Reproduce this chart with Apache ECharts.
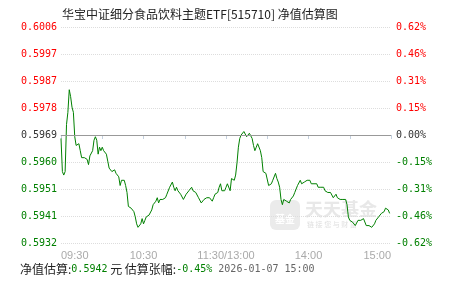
<!DOCTYPE html>
<html>
<head>
<meta charset="utf-8">
<script src="https://cdn.jsdelivr.net/npm/echarts@6/dist/echarts.min.js"></script>
<style>
  html, body { margin: 0; padding: 0; background: #fff; }
  #chart { width: 451px; height: 281px; }
</style>
</head>
<body>
<div id="chart"></div>
<script>
// 估算涨幅 (%) , one per minute from 09:30 (lunch break collapsed)
const pctData = [
  -0.02, -0.21, -0.23, -0.21, 0.06, 0.13, 0.26, 0.22, 0.16, 0.13,
  -0.01, -0.06, -0.07, -0.05, -0.09, -0.13, -0.12, -0.13, -0.14, -0.14,
  -0.17, -0.12, -0.11, -0.09, -0.03, -0.01, -0.03, -0.11, -0.07, -0.09,
  -0.07, -0.09, -0.10, -0.11, -0.15, -0.19, -0.20, -0.21, -0.20, -0.20,
  -0.22, -0.23, -0.24, -0.29, -0.26, -0.25, -0.26, -0.29, -0.33, -0.41,
  -0.42, -0.42, -0.43, -0.44, -0.47, -0.51, -0.53, -0.53, -0.51, -0.48,
  -0.51, -0.49, -0.47, -0.47, -0.46, -0.45, -0.43, -0.40, -0.39, -0.38,
  -0.36, -0.39, -0.37, -0.36, -0.37, -0.36, -0.36, -0.34, -0.33, -0.30,
  -0.29, -0.27, -0.30, -0.32, -0.30, -0.32, -0.32, -0.34, -0.34, -0.37,
  -0.36, -0.34, -0.33, -0.32, -0.32, -0.30, -0.32, -0.32, -0.33, -0.34,
  -0.36, -0.35, -0.39, -0.38, -0.37, -0.37, -0.36, -0.37, -0.36, -0.37,
  -0.38, -0.36, -0.34, -0.33, -0.33, -0.30, -0.28, -0.32, -0.33, -0.32,
  -0.30, -0.28, -0.27, -0.32, -0.25, -0.26, -0.26, -0.23, -0.16, -0.07,
  -0.02, 0.00, 0.01, 0.02, 0.01, -0.01, -0.01, 0.01, 0.02, -0.02,
  -0.06, -0.09, -0.07, -0.05, -0.06, -0.09, -0.13, -0.21, -0.22, -0.22,
  -0.23, -0.29, -0.28, -0.28, -0.26, -0.25, -0.22, -0.25, -0.27, -0.30,
  -0.37, -0.40, -0.37, -0.36, -0.38, -0.38, -0.39, -0.37, -0.36, -0.35,
  -0.33, -0.32, -0.29, -0.28, -0.26, -0.28, -0.27, -0.27, -0.26, -0.26,
  -0.27, -0.26, -0.28, -0.27, -0.28, -0.29, -0.28, -0.30, -0.29, -0.30,
  -0.30, -0.30, -0.32, -0.33, -0.33, -0.33, -0.33, -0.34, -0.36, -0.36,
  -0.34, -0.36, -0.37, -0.37, -0.36, -0.37, -0.36, -0.37, -0.40, -0.47,
  -0.49, -0.49, -0.50, -0.51, -0.52, -0.51, -0.49, -0.48, -0.49, -0.50,
  -0.48, -0.49, -0.52, -0.51, -0.52, -0.52, -0.53, -0.54, -0.51, -0.49,
  -0.48, -0.47, -0.46, -0.45, -0.44, -0.44, -0.42, -0.42, -0.43, -0.45
];

const timeTicks = [0, 60, 120, 180, 240];
const timeLabels = ['09:30', '10:30', '11:30/13:00', '14:00', '15:00'];
const navLabels = ['0.5932', '0.5941', '0.5951', '0.5960', '0.5969', '0.5978', '0.5987', '0.5997', '0.6006'];
const pctLabels = ['-0.62%', '-0.46%', '-0.31%', '-0.15%', '0.00%', '0.15%', '0.31%', '0.46%', '0.62%'];

const navNow = '0.5942';
const pctNow = '-0.45%';
const updateTime = '2026-01-07 15:00';

const mono = 'DejaVu Sans Mono';
const cjk = 'Noto Sans CJK SC';

function tickIndex(v) {
  return Math.round((v + 0.62) / 0.155);
}
// red above the previous NAV, green below, dark at the base line
function colored(v, labels) {
  const i = tickIndex(v);
  const tag = i > 4 ? 'up' : (i < 4 ? 'dn' : 'eq');
  return '{' + tag + '|' + labels[i] + '}';
}
const labelRich = {
  up: { color: '#ff0000', fontFamily: mono, fontSize: 10 },
  dn: { color: '#008000', fontFamily: mono, fontSize: 10 },
  eq: { color: '#333333', fontFamily: mono, fontSize: 10 }
};

const chart = echarts.init(document.getElementById('chart'));
chart.setOption({
  animation: false,
  title: {
    text: '华宝中证细分食品饮料主题ETF[515710] 净值估算图',
    left: 57,
    top: 3,
    textStyle: { fontSize: 12, fontWeight: 'normal', color: '#222', fontFamily: cjk }
  },
  grid: { left: 61, right: 60, top: 27, bottom: 38 },
  xAxis: {
    type: 'value',
    min: 0,
    max: 240,
    interval: 30,
    splitLine: { show: false },
    axisLine: { lineStyle: { color: '#c4d0de' } },
    axisTick: { show: true, length: 4, lineStyle: { color: '#c4d0de' } },
    axisLabel: {
      color: '#aaaaaa',
      fontSize: 11,
      fontFamily: 'Liberation Sans',
      margin: 7,
      alignMinLabel: 'left',
      alignMaxLabel: 'right',
      formatter: function (v) {
        const i = timeTicks.indexOf(Math.round(v));
        return i >= 0 ? timeLabels[i] : '';
      }
    }
  },
  yAxis: [
    {
      type: 'value',
      min: -0.62,
      max: 0.62,
      interval: 0.155,
      axisLine: { show: false },
      axisTick: { show: false },
      splitLine: { show: true, lineStyle: { color: '#dddddd', type: 'dotted' } },
      axisLabel: {
        margin: 4,
        rich: labelRich,
        formatter: function (v) { return colored(v, navLabels); }
      }
    },
    {
      type: 'value',
      min: -0.62,
      max: 0.62,
      interval: 0.155,
      position: 'right',
      axisLine: { show: false },
      axisTick: { show: false },
      splitLine: { show: false },
      axisLabel: {
        margin: 5,
        rich: labelRich,
        formatter: function (v) { return colored(v, pctLabels); }
      }
    }
  ],
  graphic: [
    {
      type: 'group',
      left: 270,
      top: 200,
      z: 0,
      children: [
        { type: 'rect', shape: { x: 0, y: 0, width: 30, height: 30, r: 6 }, style: { fill: '#ebebeb' } },
        { type: 'text', x: 15, y: 19, style: { text: '基金', fill: '#ffffff', font: 'bold 10px ' + cjk, align: 'center', verticalAlign: 'middle' } },
        { type: 'text', x: 35, y: 0, style: { text: '天天基金', fill: '#e8e8e8', font: 'bold 18px ' + cjk } },
        { type: 'text', x: 37, y: 21, style: { text: '链 接 您 与 财 富', fill: '#e0e0e0', font: '7px ' + cjk } }
      ]
    },
    {
      type: 'text',
      left: 20,
      top: 263,
      style: {
        rich: {
          k: { fontFamily: cjk, fontSize: 12, fill: '#222' },
          g: { fontFamily: mono, fontSize: 10, fill: '#008000' },
          t: { fontFamily: mono, fontSize: 10, fill: '#666' }
        },
        text: '{k|净值估算:}{g|' + navNow + '}{k| 元 估算张幅:}{g|' + pctNow + '}{t| ' + updateTime + '}'
      }
    }
  ],
  series: [
    {
      type: 'line',
      data: pctData.map(function (v, i) { return [i, v]; }),
      showSymbol: false,
      z: 3,
      lineStyle: { color: '#008000', width: 1 },
      markLine: {
        silent: true,
        symbol: 'none',
        label: { show: false },
        lineStyle: { color: '#999999', type: 'solid', width: 1 },
        data: [{ yAxis: 0 }]
      }
    }
  ]
});
</script>
</body>
</html>
